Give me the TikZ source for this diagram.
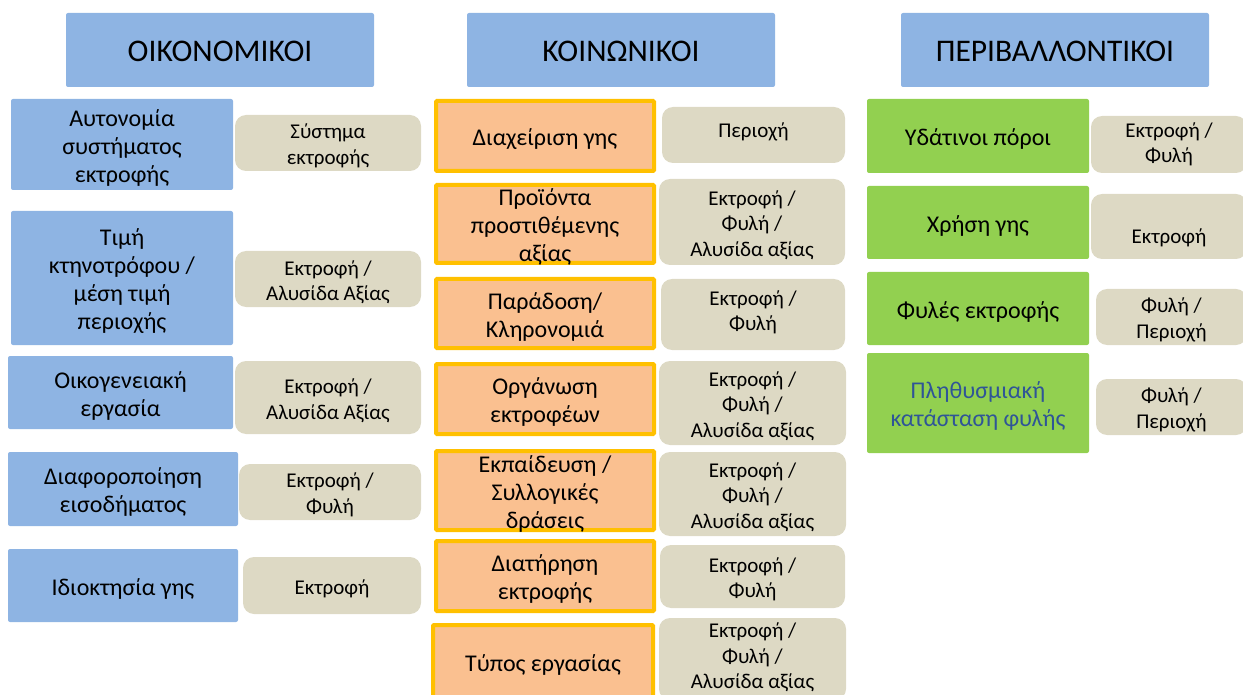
\documentclass[tikz,border=0pt]{standalone}
\usepackage{fontspec}
\setmainfont{Carlito}
\definecolor{hblue}{HTML}{8EB4E3}
\definecolor{tanc}{HTML}{DDD9C4}
\definecolor{orfill}{HTML}{FAC090}
\definecolor{orline}{HTML}{FFC000}
\definecolor{grn}{HTML}{92D050}
\definecolor{txtblue}{HTML}{2F5597}
\tikzset{
  base/.style={inner sep=0pt, outer sep=0pt, align=center},
  header/.style={base, fill=hblue, rounded corners=2pt, font=\fontsize{31.5}{36}\selectfont},
  ecobox/.style={base, fill=hblue, rounded corners=2pt, font=\fontsize{24}{28}\selectfont},
  socbox/.style={base, fill=orfill, draw=orline, line width=4pt, rounded corners=1pt, font=\fontsize{24}{28}\selectfont},
  envbox/.style={base, fill=grn, rounded corners=2pt, font=\fontsize{24}{28}\selectfont},
  tagbox/.style={base, fill=tanc, rounded corners=11pt, font=\fontsize{21}{25.5}\selectfont},
}
\newsavebox\shbox
% shifted text: lift, width, text (keeps its original height and depth)
\newcommand\shifted[3]{\sbox\shbox{\parbox{#2}{\centering #3}}\raisebox{#1}[\ht\shbox][\dp\shbox]{\usebox\shbox}}
% [lift] name, x1, y1, x2, y2, style, text
\newcommand\bx[8][-3pt]{\node[#7, minimum width={(#5-#3)*1pt}, minimum height={(#6-#4)*1pt}] (#2) at ({(#3+#5)/2},{(#4+#6)/2}) {\shifted{#1}{\dimexpr #5pt-#3pt-8pt\relax}{#8}};}
% inset variant for thick border boxes
\newcommand\bxb[8][-3pt]{\node[#7, minimum width={(#5-#3-4)*1pt}, minimum height={(#6-#4-4)*1pt}] (#2) at ({(#3+#5)/2},{(#4+#6)/2}) {\shifted{#1}{\dimexpr #5pt-#3pt-12pt\relax}{#8}};}
\begin{document}
\begin{tikzpicture}[x=1pt,y=-1pt]
\useasboundingbox (0,0) rectangle (1243,695);
\clip (0,0) rectangle (1243,695);
% headers
\bx[-1pt]{h1}{66}{13}{374}{87}{header}{ΟΙΚΟΝΟΜΙΚΟΙ}
\bx[-1pt]{h2}{467}{13}{775}{87}{header}{ΚΟΙΝΩΝΙΚΟΙ}
\bx[-1pt]{h3}{901}{13}{1209}{87}{header}{ΠΕΡΙΒΑΛΛΟΝΤΙΚΟΙ}
% economic
\bx{e1}{11}{99}{233}{190}{ecobox}{Αυτονομία\\συστήματος\\εκτροφής}
\bx{e2}{11}{211}{233}{345}{ecobox}{Τιμή\\κτηνοτρόφου /\\μέση τιμή\\περιοχής}
\bx{e3}{8}{356}{233}{429}{ecobox}{Οικογενειακή\\εργασία}
\bx{e4}{8}{452}{238}{526}{ecobox}{Διαφοροποίηση\\εισοδήματος}
\bx{e5}{8}{549}{238}{622}{ecobox}{Ιδιοκτησία γης}
\bx{et1}{235}{115}{421}{171}{tagbox}{Σύστημα\\εκτροφής}
\bx{et2}{235}{251}{421}{307}{tagbox}{Εκτροφή /\\Αλυσίδα Αξίας}
\bx{et3}{235}{361}{421}{434}{tagbox}{Εκτροφή /\\Αλυσίδα Αξίας}
\bx{et4}{239}{464}{421}{520}{tagbox}{Εκτροφή /\\Φυλή}
\bx{et5}{243}{557}{421}{614}{tagbox}{Εκτροφή}
% social
\bxb{s1}{434}{99}{656}{173}{socbox}{Διαχείριση γης}
\bxb{s2}{434}{183}{656}{265}{socbox}{Προϊόντα\\προστιθέμενης\\αξίας}
\bxb{s3}{434}{277}{656}{350}{socbox}{Παράδοση/\\Κληρονομιά}
\bxb{s4}{434}{362}{656}{436}{socbox}{Οργάνωση\\εκτροφέων}
\bxb{s5}{434}{449}{656}{532}{socbox}{Εκπαίδευση /\\Συλλογικές\\δράσεις}
\bxb{s6}{434}{539}{656}{613}{socbox}{Διατήρηση\\εκτροφής}
\bxb{s7}{431}{623}{655}{701}{socbox}{Τύπος εργασίας}
\bx[3pt]{st1}{662}{107}{845}{163}{tagbox}{Περιοχή}
\bx{st2}{659}{179}{845}{265}{tagbox}{Εκτροφή /\\Φυλή /\\Αλυσίδα αξίας}
\bx[2pt]{st3}{661}{279}{845}{350}{tagbox}{Εκτροφή /\\Φυλή}
\bx{st4}{659}{361}{846}{445}{tagbox}{Εκτροφή /\\Φυλή /\\Αλυσίδα αξίας}
\bx{st5}{659}{452}{846}{536}{tagbox}{Εκτροφή /\\Φυλή /\\Αλυσίδα αξίας}
\bx{st6}{660}{545}{845}{608}{tagbox}{Εκτροφή /\\Φυλή}
\bx[1.5pt]{st7}{659}{618}{846}{700}{tagbox}{Εκτροφή /\\Φυλή /\\Αλυσίδα αξίας}
% environmental
\bx{v1}{867}{99}{1089}{173}{envbox}{Υδάτινοι πόροι}
\bx{v2}{867}{186}{1089}{259}{envbox}{Χρήση γης}
\bx{v3}{867}{272}{1089}{345}{envbox}{Φυλές εκτροφής}
\bx{v4}{867}{353}{1089}{453}{envbox}{\textcolor{txtblue}{Πληθυσμιακή}\\\textcolor{txtblue}{κατάσταση φυλής}}
\bx[0pt]{vt1}{1091}{116}{1247}{173}{tagbox}{Εκτροφή /\\Φυλή}
\bx[-11pt]{vt2}{1091}{194}{1247}{259}{tagbox}{Εκτροφή}
\bx{vt3}{1096}{289}{1247}{345}{tagbox}{Φυλή /\\Περιοχή}
\bx{vt4}{1096}{379}{1247}{435}{tagbox}{Φυλή /\\Περιοχή}
\end{tikzpicture}
\end{document}
